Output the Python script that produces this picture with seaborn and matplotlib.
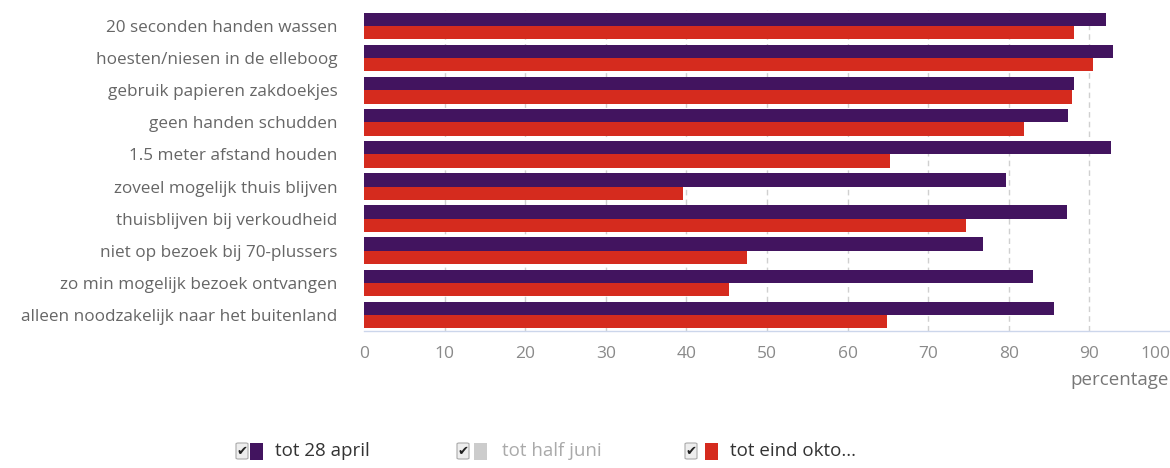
import matplotlib
matplotlib.use("Agg")
import matplotlib.pyplot as plt
import seaborn as sns
import pandas as pd
from matplotlib.patches import Rectangle, FancyBboxPatch

categories = [
    "20 seconden handen wassen",
    "hoesten/niesen in de elleboog",
    "gebruik papieren zakdoekjes",
    "geen handen schudden",
    "1.5 meter afstand houden",
    "zoveel mogelijk thuis blijven",
    "thuisblijven bij verkoudheid",
    "niet op bezoek bij 70-plussers",
    "zo min mogelijk bezoek ontvangen",
    "alleen noodzakelijk naar het buitenland",
]
tot_28_april = [92.1, 92.9, 88.1, 87.3, 92.7, 79.7, 87.2, 76.8, 83.0, 85.6]
tot_eind_oktober = [88.1, 90.5, 87.8, 81.9, 65.3, 39.6, 74.7, 47.5, 45.3, 64.9]
series_names = ["tot 28 april", "tot half juni", "tot eind okto..."]
xticks = [0, 10, 20, 30, 40, 50, 60, 70, 80, 90, 100]

PURPLE = "#42145f"
RED = "#d52b1e"
GREY = "#cccccc"

df = pd.DataFrame({
    "categorie": categories * 2,
    "waarde": tot_28_april + tot_eind_oktober,
    "periode": [series_names[0]] * len(categories) + [series_names[2]] * len(categories),
})

sns.set_theme(style="white")
plt.rcParams["font.family"] = ["Open Sans", "DejaVu Sans"]

W, H = 1170, 468
fig = plt.figure(figsize=(W / 100, H / 100), dpi=100)
ax = fig.add_axes([364 / W, 1 - 331 / H, (1170 - 364) / W, (331 - 10) / H])

sns.barplot(
    data=df, y="categorie", x="waarde", hue="periode", orient="h",
    palette=[PURPLE, RED], hue_order=[series_names[0], series_names[2]],
    width=0.83, saturation=1, legend=False, ax=ax, zorder=3,
)
for p in ax.patches:
    p.set_linewidth(0.0)

ax.set_xlim(0, 100)
ax.set_ylim(9.5, -0.5)
ax.set_xticks(xticks)
ax.set_xticklabels([str(t) for t in xticks], color="#8a8a8a", fontsize=12.5)
ax.get_xticklabels()[-1].set_ha("right")
ax.tick_params(axis="x", length=0, pad=11)
ax.tick_params(axis="y", length=0, pad=19, labelsize=12.3, labelcolor="#666666")
ax.set_xlabel("")
ax.set_ylabel("")
for t in xticks[1:-1]:
    ax.axvline(t, color="#d0d0d0", lw=1, ls=(0, (4, 3)), zorder=1)
for s in ["top", "right", "left"]:
    ax.spines[s].set_visible(False)
ax.spines["bottom"].set_color("#ccd6eb")
ax.spines["bottom"].set_linewidth(1)
ax.spines["bottom"].set_zorder(4)

fig.text(1169 / W, 1 - 380 / H, "percentage", ha="right", va="center",
         color="#777777", fontsize=13.5)

# legend with checkboxes
items = [
    (236, 250, 275, PURPLE, series_names[0], "#333333"),
    (457, 474, 502, GREY, series_names[1], "#aaaaaa"),
    (685, 705, 730, RED, series_names[2], "#333333"),
]
for cb_x, sq_x, tx_x, col, label, tcol in items:
    y0 = 443
    fig.patches.append(FancyBboxPatch(
        (cb_x / W, 1 - (y0 + 16) / H), 12 / W, 16 / H,
        boxstyle="round,pad=0,rounding_size=0.002",
        transform=fig.transFigure, facecolor="#eeeeee", edgecolor="#aaaaaa", lw=0.8))
    fig.text((cb_x + 6) / W, 1 - (y0 + 8) / H, "✔", ha="center", va="center",
             fontsize=9.5, color="#222222", family=["DejaVu Sans"])
    fig.patches.append(Rectangle(
        (sq_x / W, 1 - (y0 + 17) / H), 13 / W, 17 / H,
        transform=fig.transFigure, facecolor=col, edgecolor="none"))
    fig.text(tx_x / W, 1 - (y0 + 8) / H, label, ha="left", va="center",
             fontsize=13.5, color=tcol)

fig.savefig("out.png", dpi=100, facecolor="white")
